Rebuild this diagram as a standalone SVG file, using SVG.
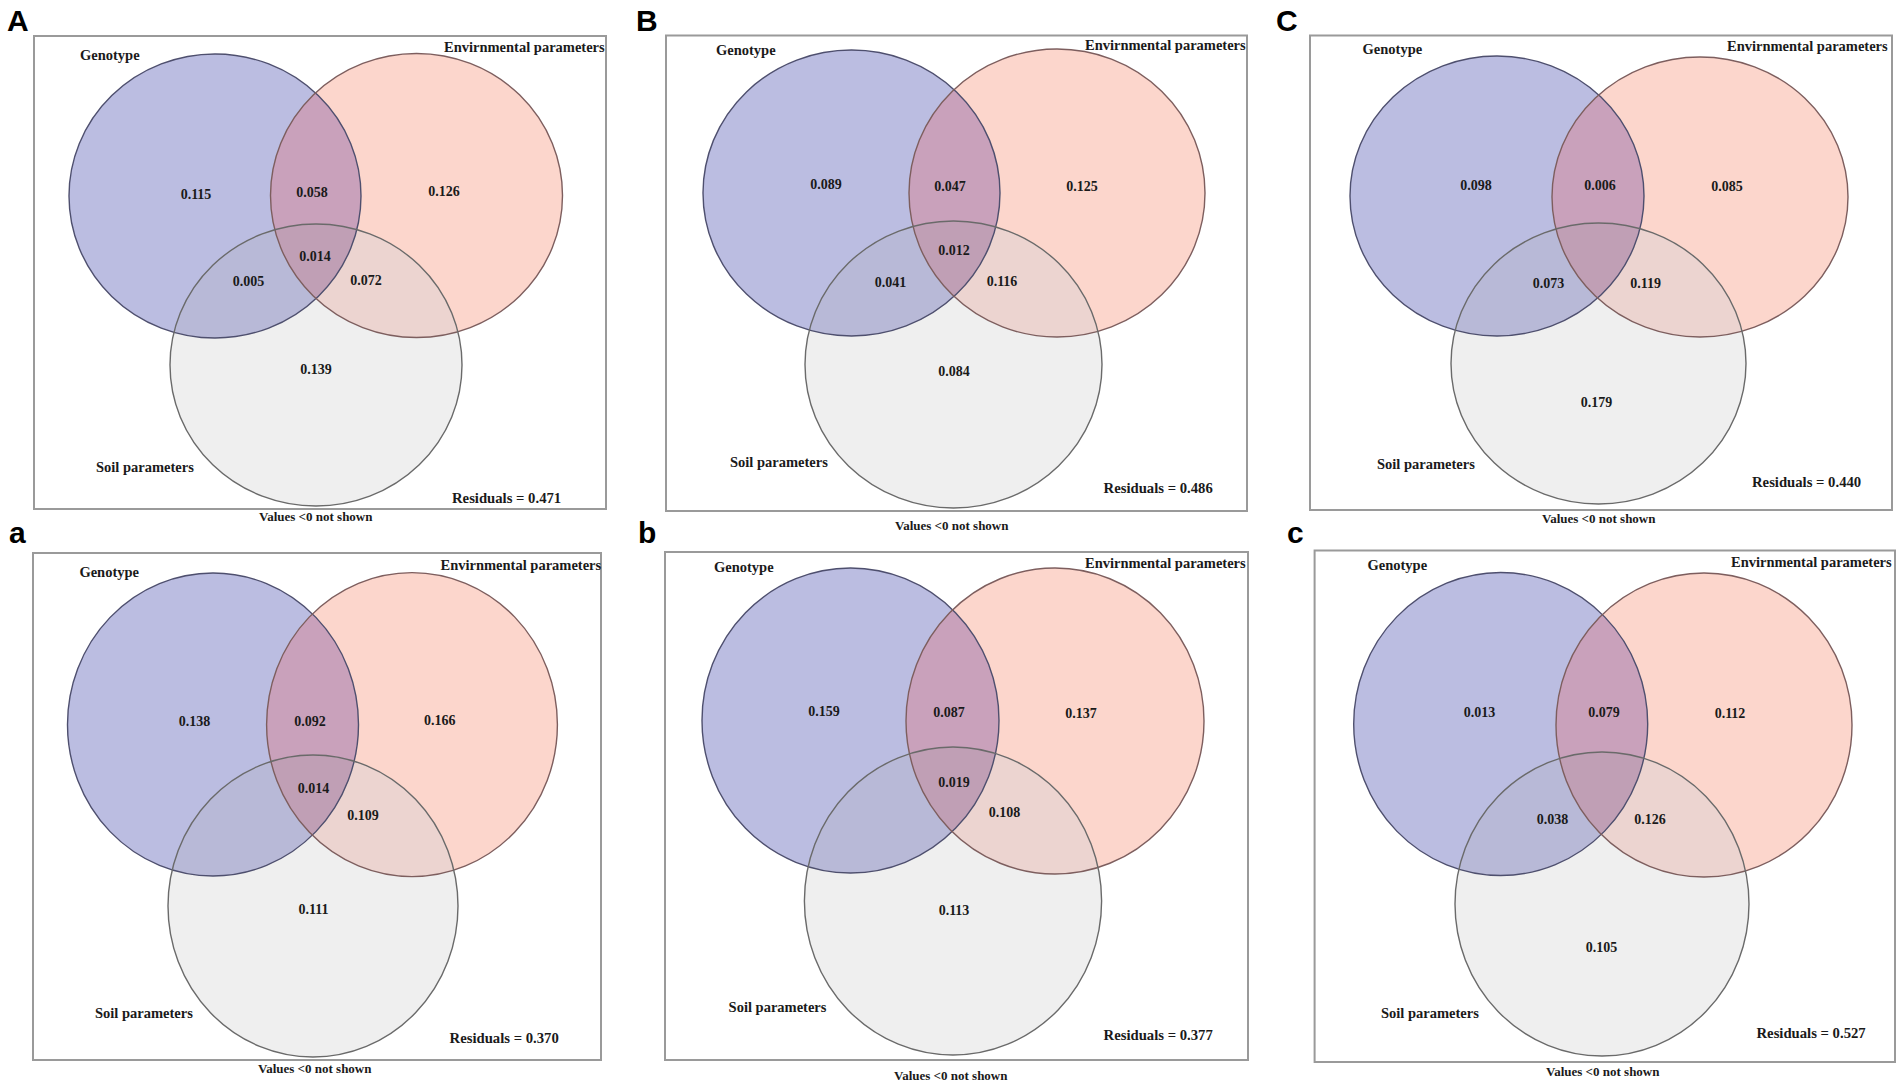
<svg xmlns="http://www.w3.org/2000/svg" xmlns:xlink="http://www.w3.org/1999/xlink" width="1901" height="1089" viewBox="0 0 1901 1089">
<style>
.bg{fill:#ffffff}
.box{fill:none;stroke:#9a9a9a;stroke-width:2}
.fg{fill:#bbbde1}
.fe{fill:#fcd6cc}
.fs{fill:#efefef}
.ge{fill:#c9a1bb}
.gs{fill:#b8b9d7}
.es{fill:#ecd4d0}
.ges{fill:#c09fb5}
.og{fill:none;stroke:#4e4f6e;stroke-width:1.4}
.oe{fill:none;stroke:#7d5e5e;stroke-width:1.4}
.os{fill:none;stroke:#6a6a6a;stroke-width:1.4}
.pl{font-family:"Liberation Sans",Arial,sans-serif;font-weight:bold;font-size:30px;fill:#000}
.lab{font-family:"Liberation Serif","Times New Roman",serif;font-weight:bold;font-size:14.5px;fill:#1a1a1a}
.num{font-family:"Liberation Serif","Times New Roman",serif;font-weight:bold;font-size:14px;fill:#1a1a1a;text-anchor:middle}
.res{font-family:"Liberation Serif","Times New Roman",serif;font-weight:bold;font-size:14.7px;fill:#1a1a1a}
.val{font-family:"Liberation Serif","Times New Roman",serif;font-weight:bold;font-size:13px;fill:#1a1a1a}
</style>
<defs>
<ellipse id="A-G" cx="215" cy="196" rx="146" ry="142"/>
<ellipse id="A-E" cx="416.5" cy="195.5" rx="146" ry="142"/>
<ellipse id="A-S" cx="316" cy="365" rx="146" ry="141"/>
<clipPath id="A-cG"><use href="#A-G"/></clipPath>
<clipPath id="A-cE"><use href="#A-E"/></clipPath>
<ellipse id="B-G" cx="851.5" cy="193" rx="148.5" ry="143"/>
<ellipse id="B-E" cx="1057" cy="193" rx="148" ry="144"/>
<ellipse id="B-S" cx="953.5" cy="364.5" rx="148.5" ry="143.5"/>
<clipPath id="B-cG"><use href="#B-G"/></clipPath>
<clipPath id="B-cE"><use href="#B-E"/></clipPath>
<ellipse id="C-G" cx="1497" cy="196" rx="147" ry="140"/>
<ellipse id="C-E" cx="1700" cy="197" rx="148" ry="140"/>
<ellipse id="C-S" cx="1598.5" cy="363.5" rx="147.5" ry="140.5"/>
<clipPath id="C-cG"><use href="#C-G"/></clipPath>
<clipPath id="C-cE"><use href="#C-E"/></clipPath>
<ellipse id="a-G" cx="213" cy="724.5" rx="145.5" ry="151.5"/>
<ellipse id="a-E" cx="412" cy="724.6" rx="145.4" ry="152"/>
<ellipse id="a-S" cx="313" cy="906" rx="145" ry="151"/>
<clipPath id="a-cG"><use href="#a-G"/></clipPath>
<clipPath id="a-cE"><use href="#a-E"/></clipPath>
<ellipse id="b-G" cx="850.5" cy="720.5" rx="148.5" ry="152.5"/>
<ellipse id="b-E" cx="1055" cy="721" rx="149" ry="153"/>
<ellipse id="b-S" cx="953" cy="901" rx="148.6" ry="154"/>
<clipPath id="b-cG"><use href="#b-G"/></clipPath>
<clipPath id="b-cE"><use href="#b-E"/></clipPath>
<ellipse id="c-G" cx="1500.7" cy="724" rx="147" ry="151.5"/>
<ellipse id="c-E" cx="1704" cy="725" rx="148" ry="152"/>
<ellipse id="c-S" cx="1602" cy="904" rx="147" ry="152"/>
<clipPath id="c-cG"><use href="#c-G"/></clipPath>
<clipPath id="c-cE"><use href="#c-E"/></clipPath>
</defs>
<rect class="bg" x="0" y="0" width="1901" height="1089"/>

<g id="panel-A">
<text class="pl" x="7" y="31">A</text>
<rect class="box" x="34" y="36" width="572" height="473"/>
<g id="A-areas">
<use href="#A-G" class="fg"/><use href="#A-E" class="fe"/><use href="#A-S" class="fs"/>
<use href="#A-E" class="ge" clip-path="url(#A-cG)"/>
<use href="#A-S" class="gs" clip-path="url(#A-cG)"/>
<use href="#A-S" class="es" clip-path="url(#A-cE)"/>
<g clip-path="url(#A-cG)"><use href="#A-S" class="ges" clip-path="url(#A-cE)"/></g>
</g>
<g id="A-genotype"><use href="#A-G" class="og"/><text class="lab" x="80" y="60">Genotype</text></g>
<g id="A-env"><use href="#A-E" class="oe"/><text class="lab" x="444" y="52">Envirnmental parameters</text></g>
<g id="A-soil"><use href="#A-S" class="os"/><text class="lab" x="96" y="472">Soil parameters</text></g>
<text class="num" x="196" y="199">0.115</text>
<text class="num" x="312" y="197">0.058</text>
<text class="num" x="444" y="196">0.126</text>
<text class="num" x="315" y="261">0.014</text>
<text class="num" x="248.5" y="286">0.005</text>
<text class="num" x="366" y="285">0.072</text>
<text class="num" x="316" y="374">0.139</text>
<text class="res" x="452" y="503">Residuals = 0.471</text>
<text class="val" x="259" y="521">Values &lt;0 not shown</text>
</g>

<g id="panel-B">
<text class="pl" x="636" y="31">B</text>
<rect class="box" x="666" y="35.5" width="581" height="475.5"/>
<g id="B-areas">
<use href="#B-G" class="fg"/><use href="#B-E" class="fe"/><use href="#B-S" class="fs"/>
<use href="#B-E" class="ge" clip-path="url(#B-cG)"/>
<use href="#B-S" class="gs" clip-path="url(#B-cG)"/>
<use href="#B-S" class="es" clip-path="url(#B-cE)"/>
<g clip-path="url(#B-cG)"><use href="#B-S" class="ges" clip-path="url(#B-cE)"/></g>
</g>
<g id="B-genotype"><use href="#B-G" class="og"/><text class="lab" x="716" y="55">Genotype</text></g>
<g id="B-env"><use href="#B-E" class="oe"/><text class="lab" x="1085" y="50">Envirnmental parameters</text></g>
<g id="B-soil"><use href="#B-S" class="os"/><text class="lab" x="730" y="467">Soil parameters</text></g>
<text class="num" x="826" y="189">0.089</text>
<text class="num" x="950" y="190.5">0.047</text>
<text class="num" x="1082" y="190.5">0.125</text>
<text class="num" x="954" y="255">0.012</text>
<text class="num" x="890.5" y="287">0.041</text>
<text class="num" x="1002" y="286">0.116</text>
<text class="num" x="954" y="376">0.084</text>
<text class="res" x="1103.6" y="493">Residuals = 0.486</text>
<text class="val" x="895" y="530">Values &lt;0 not shown</text>
</g>

<g id="panel-C">
<text class="pl" x="1276" y="31">C</text>
<rect class="box" x="1310" y="35.5" width="582" height="474.5"/>
<g id="C-areas">
<use href="#C-G" class="fg"/><use href="#C-E" class="fe"/><use href="#C-S" class="fs"/>
<use href="#C-E" class="ge" clip-path="url(#C-cG)"/>
<use href="#C-S" class="gs" clip-path="url(#C-cG)"/>
<use href="#C-S" class="es" clip-path="url(#C-cE)"/>
<g clip-path="url(#C-cG)"><use href="#C-S" class="ges" clip-path="url(#C-cE)"/></g>
</g>
<g id="C-genotype"><use href="#C-G" class="og"/><text class="lab" x="1362.6" y="54">Genotype</text></g>
<g id="C-env"><use href="#C-E" class="oe"/><text class="lab" x="1727" y="51">Envirnmental parameters</text></g>
<g id="C-soil"><use href="#C-S" class="os"/><text class="lab" x="1377" y="469">Soil parameters</text></g>
<text class="num" x="1476" y="190">0.098</text>
<text class="num" x="1600" y="190">0.006</text>
<text class="num" x="1727" y="191">0.085</text>
<text class="num" x="1548.5" y="288">0.073</text>
<text class="num" x="1645.7" y="288">0.119</text>
<text class="num" x="1596.5" y="407">0.179</text>
<text class="res" x="1752" y="487">Residuals = 0.440</text>
<text class="val" x="1542" y="523">Values &lt;0 not shown</text>
</g>

<g id="panel-a">
<text class="pl" x="9" y="543">a</text>
<rect class="box" x="33" y="553" width="568" height="507"/>
<g id="a-areas">
<use href="#a-G" class="fg"/><use href="#a-E" class="fe"/><use href="#a-S" class="fs"/>
<use href="#a-E" class="ge" clip-path="url(#a-cG)"/>
<use href="#a-S" class="gs" clip-path="url(#a-cG)"/>
<use href="#a-S" class="es" clip-path="url(#a-cE)"/>
<g clip-path="url(#a-cG)"><use href="#a-S" class="ges" clip-path="url(#a-cE)"/></g>
</g>
<g id="a-genotype"><use href="#a-G" class="og"/><text class="lab" x="79.4" y="577">Genotype</text></g>
<g id="a-env"><use href="#a-E" class="oe"/><text class="lab" x="440.5" y="570">Envirnmental parameters</text></g>
<g id="a-soil"><use href="#a-S" class="os"/><text class="lab" x="95" y="1018">Soil parameters</text></g>
<text class="num" x="194.4" y="726">0.138</text>
<text class="num" x="310" y="726">0.092</text>
<text class="num" x="439.7" y="724.5">0.166</text>
<text class="num" x="313.5" y="793">0.014</text>
<text class="num" x="363" y="820">0.109</text>
<text class="num" x="313.5" y="914">0.111</text>
<text class="res" x="449.6" y="1043">Residuals = 0.370</text>
<text class="val" x="258" y="1073">Values &lt;0 not shown</text>
</g>

<g id="panel-b">
<text class="pl" x="638" y="543">b</text>
<rect class="box" x="665" y="552" width="583" height="508"/>
<g id="b-areas">
<use href="#b-G" class="fg"/><use href="#b-E" class="fe"/><use href="#b-S" class="fs"/>
<use href="#b-E" class="ge" clip-path="url(#b-cG)"/>
<use href="#b-S" class="gs" clip-path="url(#b-cG)"/>
<use href="#b-S" class="es" clip-path="url(#b-cE)"/>
<g clip-path="url(#b-cG)"><use href="#b-S" class="ges" clip-path="url(#b-cE)"/></g>
</g>
<g id="b-genotype"><use href="#b-G" class="og"/><text class="lab" x="714" y="572">Genotype</text></g>
<g id="b-env"><use href="#b-E" class="oe"/><text class="lab" x="1085" y="568">Envirnmental parameters</text></g>
<g id="b-soil"><use href="#b-S" class="os"/><text class="lab" x="728.6" y="1012">Soil parameters</text></g>
<text class="num" x="824" y="716">0.159</text>
<text class="num" x="949" y="717">0.087</text>
<text class="num" x="1081" y="717.5">0.137</text>
<text class="num" x="954" y="787">0.019</text>
<text class="num" x="1004.4" y="817">0.108</text>
<text class="num" x="954" y="915">0.113</text>
<text class="res" x="1103.6" y="1040">Residuals = 0.377</text>
<text class="val" x="894" y="1080">Values &lt;0 not shown</text>
</g>

<g id="panel-c">
<text class="pl" x="1287" y="543">c</text>
<rect class="box" x="1314.6" y="550.5" width="580.4" height="511.5"/>
<g id="c-areas">
<use href="#c-G" class="fg"/><use href="#c-E" class="fe"/><use href="#c-S" class="fs"/>
<use href="#c-E" class="ge" clip-path="url(#c-cG)"/>
<use href="#c-S" class="gs" clip-path="url(#c-cG)"/>
<use href="#c-S" class="es" clip-path="url(#c-cE)"/>
<g clip-path="url(#c-cG)"><use href="#c-S" class="ges" clip-path="url(#c-cE)"/></g>
</g>
<g id="c-genotype"><use href="#c-G" class="og"/><text class="lab" x="1367.5" y="569.5">Genotype</text></g>
<g id="c-env"><use href="#c-E" class="oe"/><text class="lab" x="1731" y="567">Envirnmental parameters</text></g>
<g id="c-soil"><use href="#c-S" class="os"/><text class="lab" x="1381" y="1017.6">Soil parameters</text></g>
<text class="num" x="1479.5" y="717">0.013</text>
<text class="num" x="1604" y="717">0.079</text>
<text class="num" x="1730" y="718">0.112</text>
<text class="num" x="1552.6" y="824">0.038</text>
<text class="num" x="1650" y="824">0.126</text>
<text class="num" x="1601.4" y="951.7">0.105</text>
<text class="res" x="1756.5" y="1037.6">Residuals = 0.527</text>
<text class="val" x="1546" y="1076">Values &lt;0 not shown</text>
</g>
</svg>
